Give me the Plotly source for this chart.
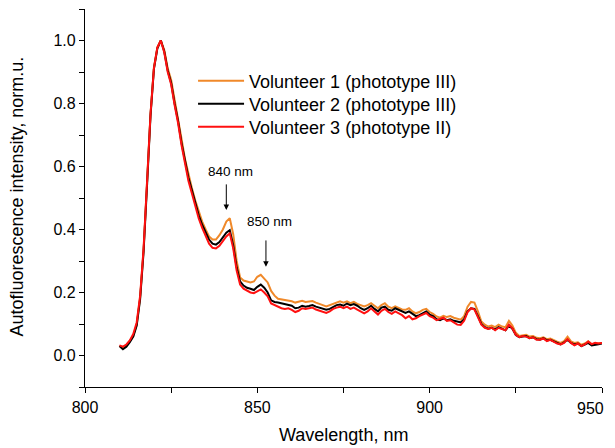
import plotly.graph_objects as go

wavelength = list(range(810, 951))

volunteer1 = [
    0.030, 0.025, 0.030, 0.045, 0.062, 0.098, 0.185, 0.335, 0.545, 0.765,
    0.915, 0.978, 1.000, 0.970, 0.912, 0.875, 0.812, 0.755, 0.688, 0.625,
    0.575, 0.532, 0.492, 0.455, 0.425, 0.400, 0.378, 0.368, 0.368, 0.382,
    0.400, 0.425, 0.436, 0.385, 0.300, 0.248, 0.238, 0.235, 0.232, 0.235,
    0.250, 0.256, 0.245, 0.232, 0.205, 0.190, 0.180, 0.178, 0.176, 0.175,
    0.172, 0.168, 0.170, 0.174, 0.170, 0.171, 0.173, 0.168, 0.165, 0.160,
    0.156, 0.160, 0.166, 0.170, 0.172, 0.168, 0.172, 0.166, 0.170, 0.164,
    0.160, 0.156, 0.160, 0.166, 0.158, 0.150, 0.160, 0.166, 0.155, 0.150,
    0.156, 0.152, 0.146, 0.145, 0.150, 0.140, 0.134, 0.138, 0.145, 0.148,
    0.138, 0.132, 0.124, 0.120, 0.126, 0.122, 0.125, 0.120, 0.116, 0.114,
    0.125, 0.155, 0.170, 0.168, 0.140, 0.108, 0.098, 0.092, 0.095, 0.090,
    0.098, 0.092, 0.090, 0.110, 0.095, 0.072, 0.062, 0.064, 0.066, 0.060,
    0.062, 0.056, 0.055, 0.058, 0.052, 0.054, 0.048, 0.044, 0.040, 0.046,
    0.060, 0.045, 0.040, 0.042, 0.034, 0.038, 0.045, 0.036, 0.038, 0.040,
    0.040,
]

volunteer2 = [
    0.030, 0.020, 0.028, 0.042, 0.060, 0.095, 0.180, 0.330, 0.540, 0.760,
    0.910, 0.975, 1.000, 0.965, 0.905, 0.865, 0.800, 0.745, 0.675, 0.615,
    0.565, 0.525, 0.485, 0.445, 0.415, 0.390, 0.368, 0.355, 0.352, 0.360,
    0.375, 0.390, 0.398, 0.350, 0.280, 0.235, 0.222, 0.215, 0.212, 0.208,
    0.218, 0.225, 0.215, 0.200, 0.175, 0.170, 0.168, 0.165, 0.162, 0.160,
    0.158, 0.150, 0.152, 0.158, 0.155, 0.157, 0.160, 0.155, 0.152, 0.150,
    0.145, 0.148, 0.155, 0.160, 0.162, 0.158, 0.165, 0.160, 0.163, 0.158,
    0.150, 0.145, 0.150, 0.158, 0.148, 0.140, 0.152, 0.155, 0.145, 0.142,
    0.150, 0.145, 0.138, 0.135, 0.140, 0.132, 0.125, 0.128, 0.135, 0.140,
    0.130, 0.125, 0.115, 0.112, 0.118, 0.112, 0.115, 0.110, 0.108, 0.105,
    0.115, 0.140, 0.150, 0.148, 0.125, 0.100, 0.090, 0.085, 0.088, 0.082,
    0.090, 0.085, 0.080, 0.095, 0.085, 0.065, 0.058, 0.060, 0.062, 0.055,
    0.058, 0.052, 0.050, 0.055, 0.048, 0.050, 0.045, 0.040, 0.035, 0.042,
    0.050, 0.040, 0.035, 0.038, 0.030, 0.035, 0.040, 0.032, 0.035, 0.036,
    0.038,
]

volunteer3 = [
    0.032, 0.028, 0.035, 0.048, 0.068, 0.105, 0.190, 0.340, 0.550, 0.765,
    0.912, 0.978, 1.000, 0.962, 0.900, 0.860, 0.795, 0.738, 0.668, 0.605,
    0.555, 0.515, 0.475, 0.435, 0.405, 0.378, 0.355, 0.342, 0.340, 0.348,
    0.362, 0.378, 0.388, 0.340, 0.270, 0.225, 0.212, 0.205, 0.200, 0.198,
    0.205, 0.210, 0.200, 0.188, 0.165, 0.160, 0.156, 0.150, 0.148, 0.150,
    0.145, 0.138, 0.142, 0.150, 0.148, 0.150, 0.152, 0.146, 0.142, 0.138,
    0.135, 0.140, 0.148, 0.152, 0.155, 0.150, 0.155, 0.148, 0.152, 0.146,
    0.140, 0.134, 0.140, 0.150, 0.140, 0.130, 0.142, 0.148, 0.138, 0.132,
    0.140, 0.135, 0.128, 0.118, 0.125, 0.115, 0.118, 0.125, 0.130, 0.135,
    0.125, 0.120, 0.112, 0.115, 0.120, 0.110, 0.112, 0.105, 0.098, 0.097,
    0.110, 0.138, 0.150, 0.146, 0.122, 0.098, 0.088, 0.084, 0.088, 0.080,
    0.088, 0.084, 0.080, 0.098, 0.086, 0.066, 0.058, 0.062, 0.060, 0.055,
    0.058, 0.050, 0.050, 0.054, 0.046, 0.050, 0.044, 0.038, 0.035, 0.040,
    0.052, 0.040, 0.032, 0.038, 0.030, 0.035, 0.044, 0.036, 0.040, 0.038,
    0.040,
]

series_names = ["Volunteer 1 (phototype III)", "Volunteer 2 (phototype III)",
                "Volunteer 3 (phototype II)"]
series_colors = ["#F0892A", "#000000", "#FF1010"]
legend_ids = ["legend", "legend2", "legend3"]
legend_rows = [0.8095, 0.7487, 0.6878]

x_ticks = [800, 850, 900, 950]
x_tick_labels = ["800", "850", "900", "950"]
y_ticks = [0.0, 0.2, 0.4, 0.6, 0.8, 1.0]

# arrow annotations: label, arrow x, tail y, tip y, text x, text y
marks = [
    ("840 nm", 841.0, 0.548, 0.462, 842.2, 0.584),
    ("850 nm", 852.5, 0.370, 0.282, 853.6, 0.425),
]

FONT = "Liberation Sans, Arial, sans-serif"

fig = go.Figure()
for name, vals, col, lg in zip(series_names, [volunteer1, volunteer2, volunteer3],
                               series_colors, legend_ids):
    fig.add_trace(go.Scatter(x=wavelength, y=vals, mode="lines", name=name,
                             legend=lg, showlegend=True, line=dict(color=col, width=2)))

for label, xa, ytail, ytip, xt, yt in marks:
    fig.add_annotation(x=xa, y=ytip, ax=xa, ay=ytail, axref="x", ayref="y",
                       xref="x", yref="y", text="", showarrow=True,
                       arrowhead=2, arrowsize=1.1, arrowwidth=1, arrowcolor="black")
    fig.add_annotation(x=xt, y=yt, xref="x", yref="y", text=label, showarrow=False,
                       font=dict(family=FONT, size=13.5, color="black"))

# last tick label drawn as right-aligned text so it stays inside the window
fig.add_annotation(x=x_ticks[-1], y=-0.0556, xref="x", yref="paper", text=x_tick_labels[-1],
                   showarrow=False, xanchor="right", yanchor="middle", xshift=4,
                   font=dict(family=FONT, size=16, color="black"))

# axis titles
fig.add_annotation(x=0.5, y=-0.127, xref="paper", yref="paper", text="Wavelength, nm",
                   showarrow=False, xanchor="center", yanchor="middle",
                   font=dict(family=FONT, size=18, color="black"))
fig.add_annotation(x=-0.132, y=0.503, xref="paper", yref="paper",
                   text="Autofluorescence intensity, norm.u.", textangle=-90,
                   showarrow=False, xanchor="center", yanchor="middle",
                   font=dict(family=FONT, size=18, color="black"))

legend_style = dict(xanchor="left", yanchor="middle", bgcolor="rgba(0,0,0,0)",
                    font=dict(family=FONT, size=18, color="black"), itemwidth=46)

# the page body adds an 8px offset, so the figure is drawn 8px smaller
fig.update_layout(
    width=607, height=440,
    margin=dict(l=77, r=13, t=1, b=61, autoexpand=False),
    paper_bgcolor="white", plot_bgcolor="white",
    font=dict(family=FONT, color="black"),
    showlegend=True,
    legend=dict(x=0.209, y=legend_rows[0], **legend_style),
    legend2=dict(x=0.209, y=legend_rows[1], **legend_style),
    legend3=dict(x=0.209, y=legend_rows[2], **legend_style),
)
fig.update_xaxes(
    range=[800, 950], tickmode="array", tickvals=x_ticks,
    ticktext=x_tick_labels[:-1] + [""], automargin=False,
    showgrid=False, zeroline=False,
    showline=True, linecolor="black", linewidth=1.3,
    ticks="outside", ticklen=5, tickwidth=1.2, tickcolor="black",
    ticklabelstandoff=1, ticklabeloverflow="allow",
    tickfont=dict(family=FONT, size=16),
    minor=dict(dtick=25, tick0=800, ticks="outside", ticklen=5, tickwidth=1.2, tickcolor="black"),
)
fig.update_yaxes(
    range=[-0.1, 1.1], tickmode="array", tickvals=y_ticks, tickformat=".1f", automargin=False,
    showgrid=False, zeroline=False,
    showline=True, linecolor="black", linewidth=1.3,
    ticks="outside", ticklen=5, tickwidth=1.2, tickcolor="black",
    tickfont=dict(family=FONT, size=16),
    minor=dict(dtick=0.1, tick0=0, ticks="outside", ticklen=5, tickwidth=1.2, tickcolor="black"),
)

fig.write_html("out.html")
